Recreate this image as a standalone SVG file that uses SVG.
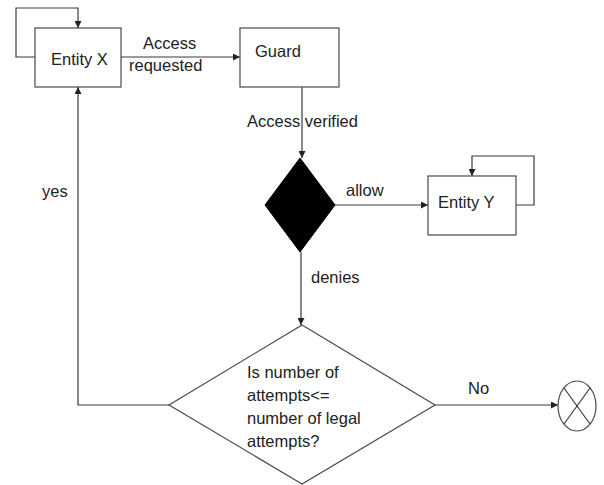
<svg xmlns="http://www.w3.org/2000/svg" width="604" height="485" viewBox="0 0 604 485">
  <style>
    .box { fill: #ffffff; stroke: #4a4a4a; stroke-width: 1.2; }
    .line { fill: none; stroke: #3a3a3a; stroke-width: 1.2; }
    .lbl { font-family: "Liberation Sans", Arial, sans-serif; font-size: 16.5px; fill: #222222; }
  </style>
  <defs>
    <marker id="arrow" viewBox="0 0 10 10" refX="10" refY="5" markerWidth="7" markerHeight="7" markerUnits="userSpaceOnUse" orient="auto">
      <path d="M0,0 L10,5 L0,10 z" fill="#222222"/>
    </marker>
  </defs>

  <rect width="604" height="485" fill="#ffffff"/>

  <!-- connectors -->
  <g id="connectors">
    <!-- Entity X self loop -->
    <polyline class="line" points="35,57 16,57 16,8 78,8 78,28" marker-end="url(#arrow)"/>
    <!-- Entity X to Guard -->
    <line class="line" x1="121" y1="57" x2="240" y2="57" marker-end="url(#arrow)"/>
    <!-- Guard to decision -->
    <line class="line" x1="302" y1="87" x2="302" y2="158" marker-end="url(#arrow)"/>
    <!-- allow to Entity Y -->
    <line class="line" x1="335" y1="205" x2="428" y2="205" marker-end="url(#arrow)"/>
    <!-- Entity Y self loop -->
    <polyline class="line" points="516,205 534,205 534,156 472,156 472,176" marker-end="url(#arrow)"/>
    <!-- denies to attempts check -->
    <line class="line" x1="301" y1="252" x2="301" y2="325" marker-end="url(#arrow)"/>
    <!-- yes back to Entity X -->
    <polyline class="line" points="169,405 78,405 78,87" marker-end="url(#arrow)"/>
    <!-- No to end -->
    <line class="line" x1="435" y1="405" x2="558" y2="405" marker-end="url(#arrow)"/>

    <text class="lbl" x="143" y="49">Access</text>
    <text class="lbl" x="129" y="71">requested</text>
    <text class="lbl" x="247" y="127">Access verified</text>
    <text class="lbl" x="346" y="196">allow</text>
    <text class="lbl" x="311" y="283">denies</text>
    <text class="lbl" x="42" y="197">yes</text>
    <text class="lbl" x="468" y="394">No</text>
  </g>

  <g id="entity-x">
    <rect class="box" x="35" y="28" width="86" height="59"/>
    <text class="lbl" x="51" y="65">Entity X</text>
  </g>

  <g id="guard">
    <rect class="box" x="240" y="28" width="99" height="59"/>
    <text class="lbl" x="255" y="57">Guard</text>
  </g>

  <g id="decision">
    <polygon points="300,158 335,205 300,252 265,205" fill="#000000" stroke="#000000" stroke-width="1"/>
  </g>

  <g id="entity-y">
    <rect class="box" x="428" y="176" width="88" height="59"/>
    <text class="lbl" x="438" y="208">Entity Y</text>
  </g>

  <g id="attempts-check">
    <polygon class="box" points="302,325 435,405 302,484 169,405"/>
    <text class="lbl" x="247" y="378">Is number of</text>
    <text class="lbl" x="247" y="401">attempts&lt;=</text>
    <text class="lbl" x="247" y="424">number of legal</text>
    <text class="lbl" x="247" y="447">attempts?</text>
  </g>

  <g id="end">
    <ellipse class="box" cx="577" cy="406" rx="19" ry="25"/>
    <line class="line" x1="564" y1="388" x2="590" y2="424"/>
    <line class="line" x1="590" y1="388" x2="564" y2="424"/>
  </g>
</svg>
